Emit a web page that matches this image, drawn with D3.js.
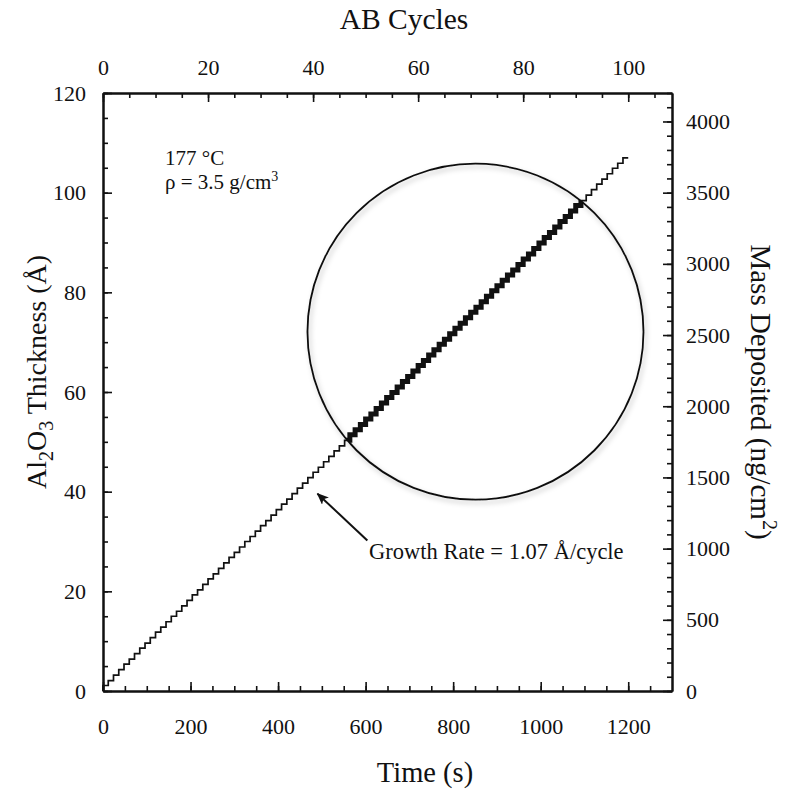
<!DOCTYPE html>
<html>
<head>
<meta charset="utf-8">
<script src="https://cdn.jsdelivr.net/npm/d3@7"></script>
<style>
  body { margin: 0; background: #fff; }
  svg { display: block; }
  text { font-family: "Liberation Serif", "Times New Roman", serif; fill: #111; }
</style>
</head>
<body>
<svg id="chart" width="788" height="790"></svg>
<script>
// Tick values for the four axes
const cycleTicks = [0, 20, 40, 60, 80, 100];
const timeTicks = [0, 200, 400, 600, 800, 1000, 1200];
const thicknessTicks = [0, 20, 40, 60, 80, 100, 120];
const massTicks = [0, 500, 1000, 1500, 2000, 2500, 3000, 3500, 4000];

// Al2O3 film thickness (Å) after each AB cycle, cycles 0..100
const cycleThickness = [
  0, 1.1, 2.1, 3.2, 4.3, 5.4, 6.4, 7.5, 8.6, 9.6,
  10.7, 11.8, 12.8, 13.9, 15.0, 16.0, 17.1, 18.2, 19.3, 20.3,
  21.4, 22.5, 23.5, 24.6, 25.7, 26.8, 27.8, 28.9, 30.0, 31.0,
  32.1, 33.2, 34.2, 35.3, 36.4, 37.5, 38.5, 39.6, 40.7, 41.7,
  42.8, 43.9, 44.9, 46.0, 47.1, 48.2, 49.2, 50.3, 51.4, 52.4,
  53.5, 54.6, 55.6, 56.7, 57.8, 58.9, 59.9, 61.0, 62.1, 63.1,
  64.2, 65.3, 66.3, 67.4, 68.5, 69.6, 70.6, 71.7, 72.8, 73.8,
  74.9, 76.0, 77.0, 78.1, 79.2, 80.3, 81.3, 82.4, 83.5, 84.5,
  85.6, 86.7, 87.7, 88.8, 89.9, 91.0, 92.0, 93.1, 94.2, 95.2,
  96.3, 97.4, 98.4, 99.5, 100.6, 101.7, 102.7, 103.8, 104.9, 105.9,
  107.0
];

const secondsPerCycle = 12;      // one AB cycle lasts 12 s
const ngPerAngstrom = 35;        // 3.5 g/cm3 x 1e-8 cm/Å = 35 ng/cm2 per Å

const svg = d3.select("#chart");
const L = 103, R = 672, T = 93, B = 691;
const serif = '"Liberation Serif", "Times New Roman", serif';

const x = d3.scaleLinear().domain([0, 1300]).range([L, R]);
const xCycle = d3.scaleLinear().domain([0, 1300 / secondsPerCycle]).range([L, R]);
const y = d3.scaleLinear().domain([0, 120]).range([B, T]);
const yMass = d3.scaleLinear().domain([0, 120 * ngPerAngstrom]).range([B, T]);

const plain = d3.format("d");

function styleAxis(g) {
  g.attr("font-family", null).attr("font-size", null);
  g.select(".domain").attr("stroke", "#111").attr("stroke-width", 2);
  g.selectAll(".tick line").attr("stroke", "#111").attr("stroke-width", 1.6);
  g.selectAll(".tick text")
    .style("font-family", serif)
    .style("font-size", "22px").attr("fill", "#111");
}

function range(a, b, s) { return d3.range(a, b + 1e-9, s); }

// Bottom: time
svg.append("g").attr("transform", `translate(0,${B})`)
  .call(d3.axisBottom(x).tickValues(range(0, 1250, 50)).tickFormat("").tickSizeInner(-5).tickSizeOuter(0))
  .call(styleAxis);
svg.append("g").attr("transform", `translate(0,${B})`)
  .call(d3.axisBottom(x).tickValues(timeTicks).tickFormat(plain).tickSizeInner(-9).tickSizeOuter(0).tickPadding(27))
  .call(styleAxis);

// Top: AB cycles
svg.append("g").attr("transform", `translate(0,${T})`)
  .call(d3.axisTop(xCycle).tickValues(range(0, 105, 5)).tickFormat("").tickSizeInner(-5).tickSizeOuter(0))
  .call(styleAxis);
svg.append("g").attr("transform", `translate(0,${T})`)
  .call(d3.axisTop(xCycle).tickValues(cycleTicks).tickFormat(plain).tickSizeInner(-9).tickSizeOuter(0).tickPadding(18))
  .call(styleAxis);

// Left: thickness
svg.append("g").attr("transform", `translate(${L},0)`)
  .call(d3.axisLeft(y).tickValues(range(0, 120, 5)).tickFormat("").tickSizeInner(-5).tickSizeOuter(0))
  .call(styleAxis);
svg.append("g").attr("transform", `translate(${L},0)`)
  .call(d3.axisLeft(y).tickValues(thicknessTicks).tickFormat(plain).tickSizeInner(-9).tickSizeOuter(0).tickPadding(17))
  .call(styleAxis);

// Right: mass deposited
svg.append("g").attr("transform", `translate(${R},0)`)
  .call(d3.axisRight(yMass).tickValues(range(0, 4200, 100)).tickFormat("").tickSizeInner(-5).tickSizeOuter(0))
  .call(styleAxis);
svg.append("g").attr("transform", `translate(${R},0)`)
  .call(d3.axisRight(yMass).tickValues(massTicks).tickFormat(plain).tickSizeInner(-9).tickSizeOuter(0).tickPadding(14))
  .call(styleAxis);

// Staircase growth curve
const points = cycleThickness.map((t, i) => ({ time: i * secondsPerCycle, thick: t }));
const stair = d3.line()
  .x(d => x(d.time))
  .y(d => y(d.thick))
  .curve(d3.curveStepBefore);

svg.append("path").datum(points)
  .attr("d", stair)
  .attr("fill", "none").attr("stroke", "#111").attr("stroke-width", 1.7);

// Highlight circle
const circleCenter = { time: 851, thick: 72.1 };
const circleRadius = 168;

const defs = svg.append("defs");
defs.append("clipPath").attr("id", "zoomClip")
  .append("circle")
  .attr("cx", x(circleCenter.time)).attr("cy", y(circleCenter.thick)).attr("r", circleRadius);
const shadow = defs.append("filter").attr("id", "ringShadow")
  .attr("x", "-10%").attr("y", "-10%").attr("width", "120%").attr("height", "120%");
shadow.append("feDropShadow").attr("dx", 2).attr("dy", 3).attr("stdDeviation", 2.5)
  .attr("flood-color", "#000").attr("flood-opacity", 0.25);

svg.append("path").datum(points)
  .attr("d", stair)
  .attr("clip-path", "url(#zoomClip)")
  .attr("fill", "none").attr("stroke", "#111").attr("stroke-width", 5).attr("stroke-linejoin", "miter");

svg.append("circle")
  .attr("cx", x(circleCenter.time)).attr("cy", y(circleCenter.thick)).attr("r", circleRadius)
  .attr("fill", "none").attr("stroke", "#111").attr("stroke-width", 1.8)
  .attr("filter", "url(#ringShadow)");

// Conditions
svg.append("text").attr("x", 165).attr("y", 165).style("font-size", "21px").text("177 °C");
const rho = svg.append("text").attr("x", 165).attr("y", 189).style("font-size", "21px");
rho.append("tspan").text("ρ = 3.5 g/cm");
rho.append("tspan").attr("dy", -8).style("font-size", "14px").text("3");

// Growth rate annotation with arrow
defs.append("marker").attr("id", "arrowHead")
  .attr("viewBox", "0 0 12 10").attr("refX", 11).attr("refY", 5)
  .attr("markerWidth", 12).attr("markerHeight", 10).attr("markerUnits", "userSpaceOnUse")
  .attr("orient", "auto")
  .append("path").attr("d", "M0,0 L12,5 L0,10 L3,5 Z").attr("fill", "#111");

svg.append("line")
  .attr("x1", x(604)).attr("y1", y(30.2))
  .attr("x2", x(490)).attr("y2", y(39.6))
  .attr("stroke", "#111").attr("stroke-width", 2)
  .attr("marker-end", "url(#arrowHead)");

svg.append("text").attr("x", x(608)).attr("y", 559).style("font-size", "22.5px")
  .text("Growth Rate = 1.07 Å/cycle");

// Axis titles
svg.append("text").attr("x", 404).attr("y", 29).attr("text-anchor", "middle")
  .style("font-size", "29.5px").text("AB Cycles");
svg.append("text").attr("x", 425).attr("y", 782).attr("text-anchor", "middle")
  .style("font-size", "28.5px").text("Time (s)");

const leftTitle = svg.append("text")
  .attr("transform", "translate(46,372) rotate(-90)")
  .attr("text-anchor", "middle").style("font-size", "28px");
leftTitle.append("tspan").text("Al");
leftTitle.append("tspan").attr("dy", 7).style("font-size", "20px").text("2");
leftTitle.append("tspan").attr("dy", -7).text("O");
leftTitle.append("tspan").attr("dy", 7).style("font-size", "20px").text("3");
leftTitle.append("tspan").attr("dy", -7).text(" Thickness (Å)");

const rightTitle = svg.append("text")
  .attr("transform", "translate(751,392) rotate(90)")
  .attr("text-anchor", "middle").style("font-size", "29px");
rightTitle.append("tspan").text("Mass Deposited (ng/cm");
rightTitle.append("tspan").attr("dy", -12).style("font-size", "20px").text("2");
rightTitle.append("tspan").attr("dy", 12).text(")");
</script>
</body>
</html>
